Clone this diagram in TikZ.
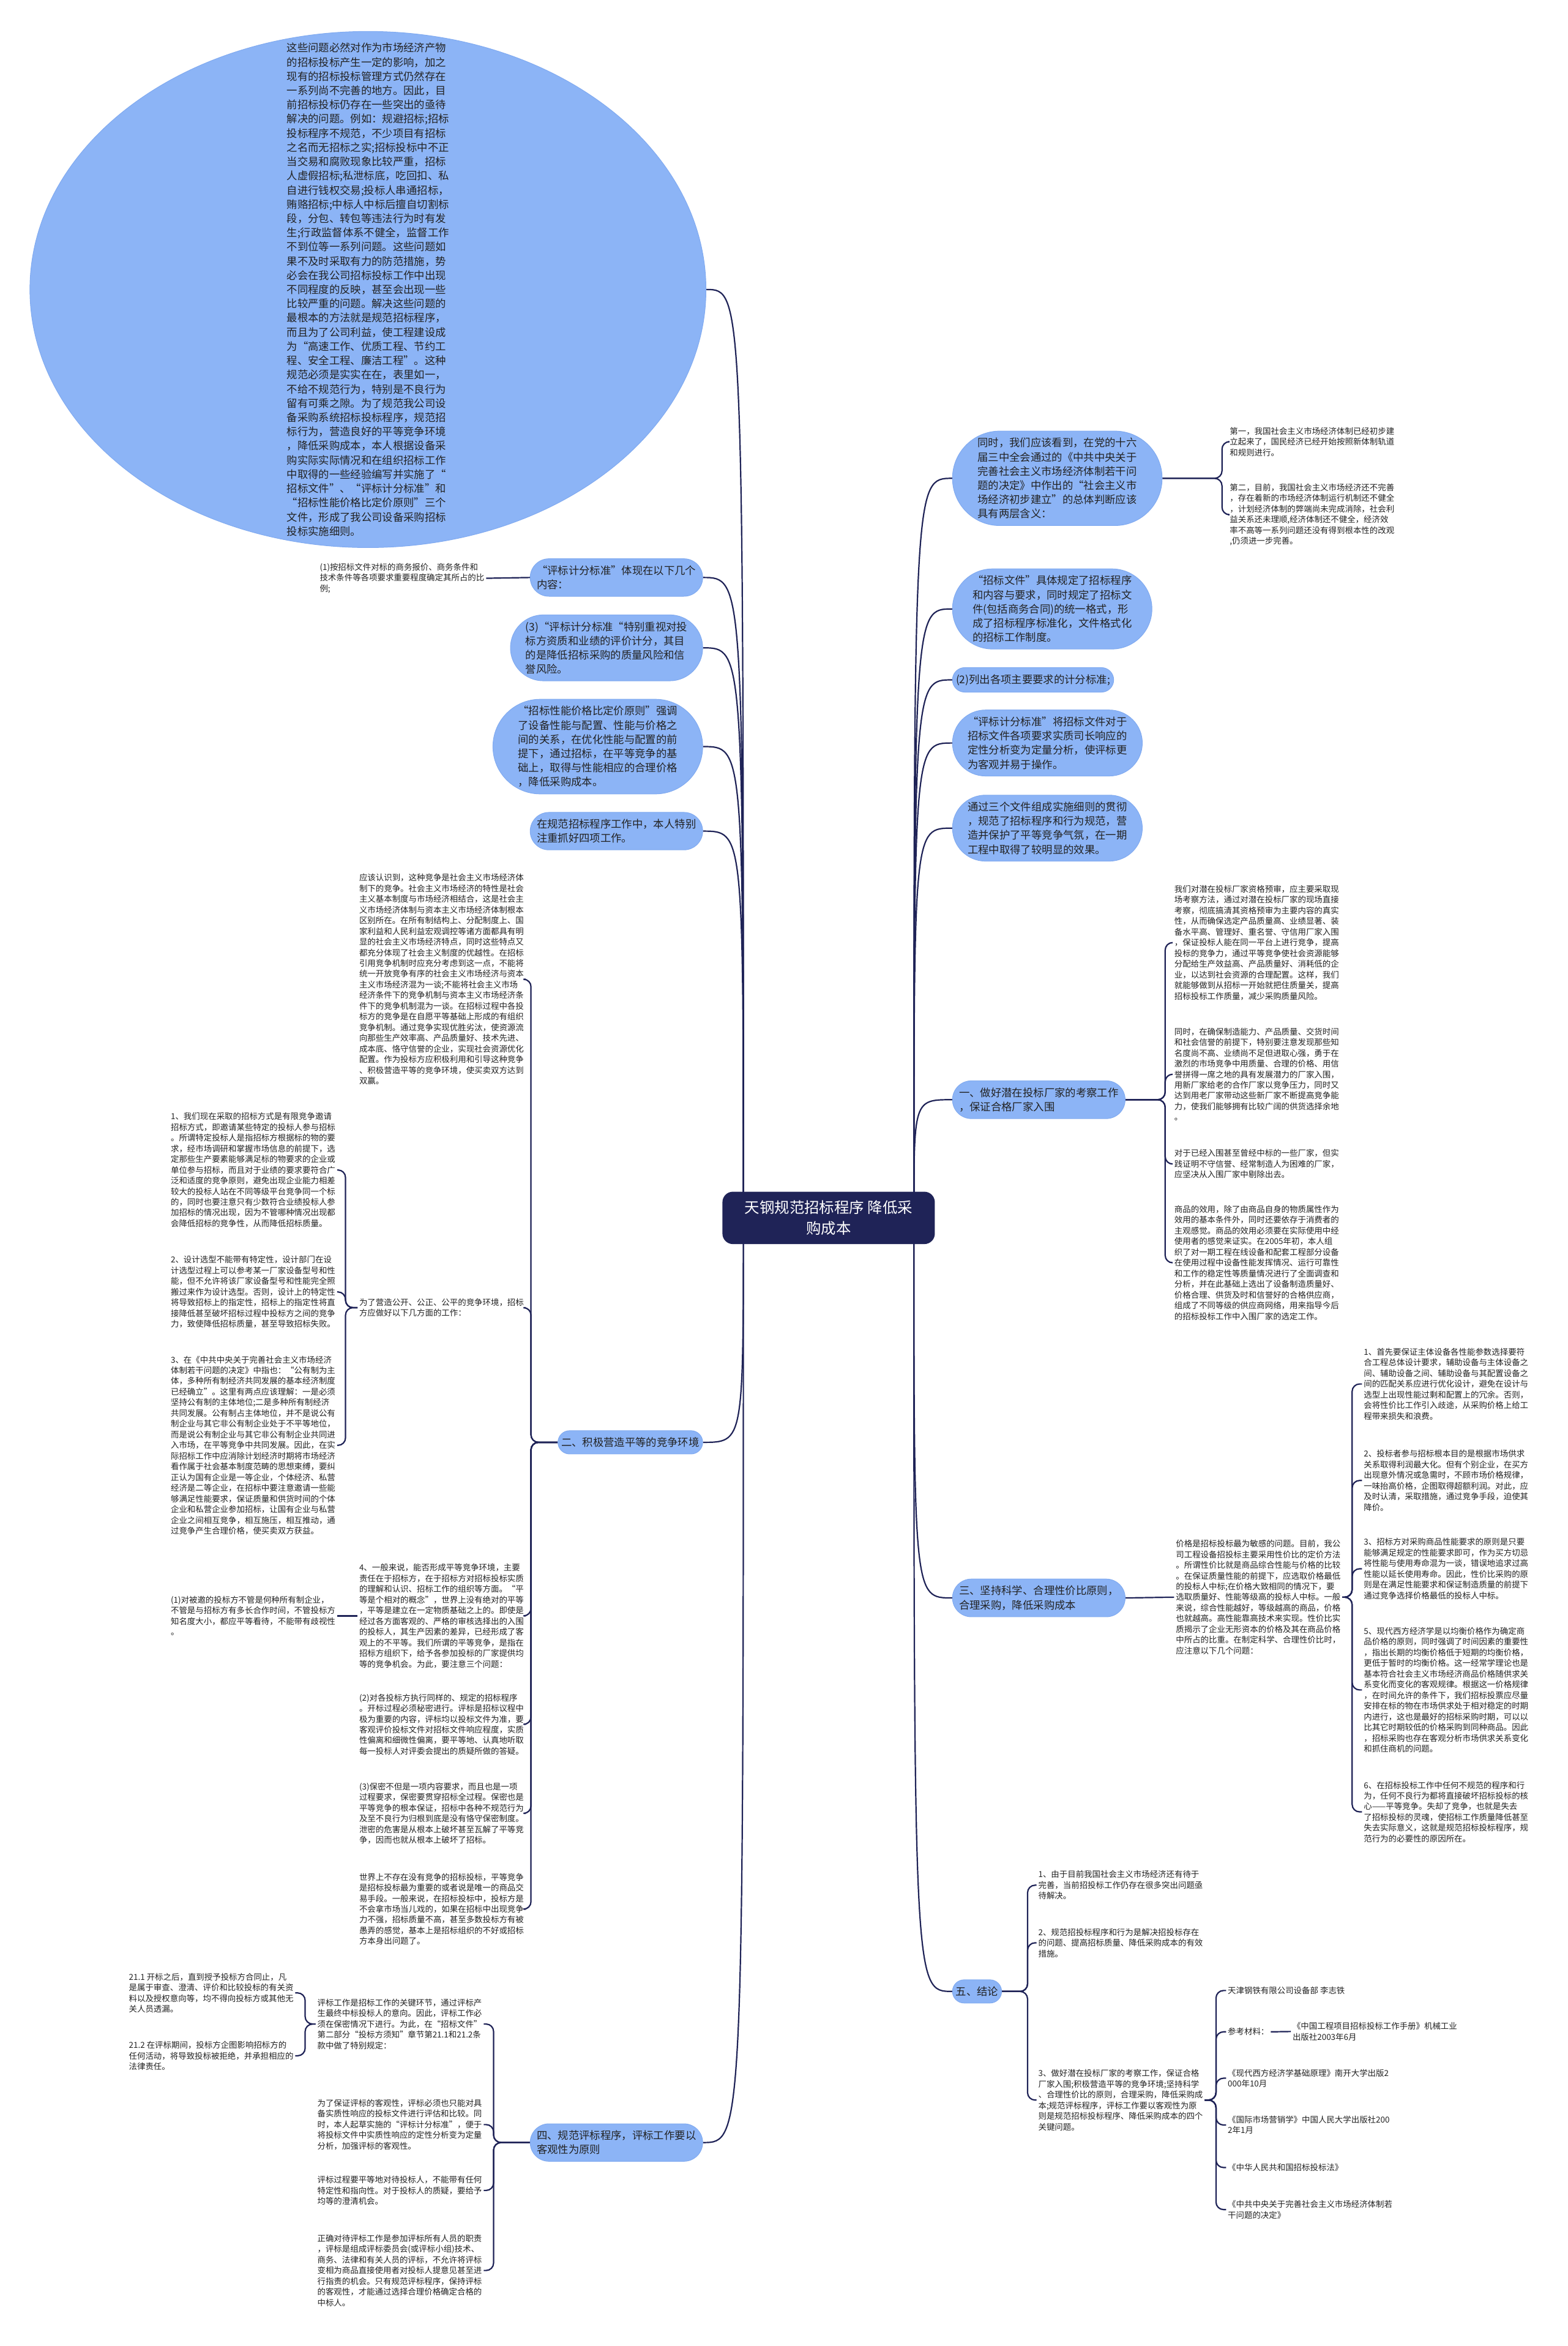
\documentclass[tikz,border=0pt]{standalone}
\usepackage{fontspec}
\setmainfont{Noto Sans CJK SC}
\usepackage{tikz}
\usetikzlibrary{shapes.misc,shapes.geometric,backgrounds}
\definecolor{MapNavy}{HTML}{1F2357}
\definecolor{MapBlue}{HTML}{8CB4F6}
\definecolor{MapBlueLine}{HTML}{80AAF0}
\definecolor{MapInk}{HTML}{222222}

\begin{document}
\begin{tikzpicture}[x=1pt,y=-1pt,
    hub/.style={rounded corners=7pt,fill=MapNavy,text=white,align=center,
      minimum width=142pt,minimum height=35pt,font=\fontsize{10}{14}\selectfont},
    pill/.style={rounded rectangle,fill=MapBlue,draw=MapBlueLine,line width=0.4pt,
      inner xsep=1.5pt,inner ysep=4.5pt,align=left,text=MapInk,
      font=\fontsize{7.1}{9.5}\selectfont},
    bubble/.style={ellipse,fill=MapBlue,draw=MapBlueLine,line width=0.4pt,
      minimum width=452pt,minimum height=345pt,inner sep=0pt},
    pilltext/.style={align=left,text=MapInk,inner sep=0pt,font=\fontsize{7.1}{9.5}\selectfont},
    note/.style={inner sep=1pt,align=left,text=MapInk,font=\fontsize{5.5}{7.15}\selectfont},
    link/.style={draw=MapNavy,line width=0.9pt},
    brace/.style={link,rounded corners=5pt}
  ]
  \useasboundingbox (0,0) rectangle (1048,1568);

  \node[hub] (root) at (554,814) {天钢规范招标程序 降低采\\购成本};

  % left side
  \node[bubble] (intro) at (246,193.5) {};
  \node[pilltext] at (intro.center) {这些问题必然对作为市场经济产物\\的招标投标产生一定的影响，加之\\现有的招标投标管理方式仍然存在\\一系列尚不完善的地方。因此，目\\前招标投标仍存在一些突出的亟待\\解决的问题。例如：规避招标;招标\\投标程序不规范，不少项目有招标\\之名而无招标之实;招标投标中不正\\当交易和腐败现象比较严重，招标\\人虚假招标;私泄标底，吃回扣、私\\自进行钱权交易;投标人串通招标，\\贿赂招标;中标人中标后擅自切割标\\段，分包、转包等违法行为时有发\\生;行政监督体系不健全，监督工作\\不到位等一系列问题。这些问题如\\果不及时采取有力的防范措施，势\\必会在我公司招标投标工作中出现\\不同程度的反映，甚至会出现一些\\比较严重的问题。解决这些问题的\\最根本的方法就是规范招标程序，\\而且为了公司利益，使工程建设成\\为“高速工作、优质工程、节约工\\程、安全工程、廉洁工程”。这种\\规范必须是实实在在，表里如一，\\不给不规范行为，特别是不良行为\\留有可乘之隙。为了规范我公司设\\备采购系统招标投标程序，规范招\\标行为，营造良好的平等竞争环境\\，降低采购成本，本人根据设备采\\购实际实际情况和在组织招标工作\\中取得的一些经验编写并实施了“\\招标文件”、“评标计分标准”和\\“招标性能价格比定价原则”三个\\文件，形成了我公司设备采购招标\\投标实施细则。};
  \node[pill,anchor=east] (scoreRule) at (470,386) {“评标计分标准”体现在以下几个\\内容：};
  \node[note,anchor=east] (scoreRatio) at (325,386.5) {(1)按招标文件对标的商务报价、商务条件和\\技术条件等各项要求重要程度确定其所占的比\\例;};
  \node[pill,anchor=east] (scoreQual) at (470,433) {(3)“评标计分标准“特别重视对投\\标方资质和业绩的评价计分，其目\\的是降低招标采购的质量风险和信\\誉风险。};
  \node[pill,anchor=east] (priceRule) at (470,499) {“招标性能价格比定价原则”强调\\了设备性能与配置、性能与价格之\\间的关系，在优化性能与配置的前\\提下，通过招标，在平等竞争的基\\础上，取得与性能相应的合理价格\\，降低采购成本。};
  \node[pill,anchor=east] (fourTasks) at (470,555.5) {在规范招标程序工作中，本人特别\\注重抓好四项工作。};
  \node[pill,anchor=east] (compete) at (470,964) {二、积极营造平等的竞争环境};
  \node[pill,anchor=east] (evalRule) at (470,1432) {四、规范评标程序，评标工作要以\\客观性为原则};

  % section two
  \node[note,anchor=west] (recognize) at (239,654.5) {应该认识到，这种竞争是社会主义市场经济体\\制下的竞争。社会主义市场经济的特性是社会\\主义基本制度与市场经济相结合，这是社会主\\义市场经济体制与资本主义市场经济体制根本\\区别所在。在所有制结构上、分配制度上、国\\家利益和人民利益宏观调控等诸方面都具有明\\显的社会主义市场经济特点，同时这些特点又\\都充分体现了社会主义制度的优越性。在招标\\引用竞争机制时应充分考虑到这一点，不能将\\统一开放竞争有序的社会主义市场经济与资本\\主义市场经济混为一谈;不能将社会主义市场\\经济条件下的竞争机制与资本主义市场经济条\\件下的竞争机制混为一谈。在招标过程中各投\\标方的竞争是在自愿平等基础上形成的有组织\\竞争机制。通过竞争实现优胜劣汰，使资源流\\向那些生产效率高、产品质量好、技术先进、\\成本底、恪守信誉的企业，实现社会资源优化\\配置。作为投标方应积极利用和引导这种竞争\\、积极营造平等的竞争环境，使买卖双方达到\\双赢。};
  \node[note,anchor=west] (openEnv) at (239,874) {为了营造公开、公正、公平的竞争环境，招标\\方应做好以下几方面的工作：};
  \node[note,anchor=west] (inviteWay) at (113,782) {1、我们现在采取的招标方式是有限竞争邀请\\招标方式，即邀请某些特定的投标人参与招标\\。所谓特定投标人是指招标方根据标的物的要\\求，经市场调研和掌握市场信息的前提下，选\\定那些生产要素能够满足标的物要求的企业或\\单位参与招标，而且对于业绩的要求要符合广\\泛和适度的竞争原则，避免出现企业能力相差\\较大的投标人站在不同等级平台竞争同一个标\\的，同时也要注意只有少数符合业绩投标人参\\加招标的情况出现，因为不管哪种情况出现都\\会降低招标的竞争性，从而降低招标质量。};
  \node[note,anchor=west] (designSel) at (113,863.5) {2、设计选型不能带有特定性，设计部门在设\\计选型过程上可以参考某一厂家设备型号和性\\能，但不允许将该厂家设备型号和性能完全照\\搬过来作为设计选型。否则，设计上的特定性\\将导致招标上的指定性，招标上的指定性将直\\接降低甚至破坏招标过程中投标方之间的竞争\\力，致使降低招标质量，甚至导致招标失败。};
  \node[note,anchor=west] (ownership) at (113,966) {3、在《中共中央关于完善社会主义市场经济\\体制若干问题的决定》中指也：“公有制为主\\体，多种所有制经济共同发展的基本经济制度\\已经确立”。这里有两点应该理解：一是必须\\坚持公有制的主体地位;二是多种所有制经济\\共同发展。公有制占主体地位，并不是说公有\\制企业与其它非公有制企业处于不平等地位，\\而是说公有制企业与其它非公有制企业共同进\\入市场，在平等竞争中共同发展。因此，在实\\际招标工作中应消除计划经济时期将市场经济\\看作属于社会基本制度范畴的思想束缚，要纠\\正认为国有企业是一等企业，个体经济、私营\\经济是二等企业，在招标中要注意邀请一些能\\够满足性能要求，保证质量和供货时间的个体\\企业和私营企业参加招标，让国有企业与私营\\企业之间相互竞争，相互施压，相互推动，通\\过竞争产生合理价格，使买卖双方获益。};
  \node[note,anchor=west] (fairBase) at (239,1080) {4、一般来说，能否形成平等竞争环境，主要\\责任在于招标方，在于招标方对招标投标实质\\的理解和认识、招标工作的组织等方面。“平\\等是个相对的概念”，世界上没有绝对的平等\\，平等是建立在一定物质基础之上的。即使是\\经过各方面客观的、严格的审核选择出的入围\\的投标人，其生产因素的差异，已经形成了客\\观上的不平等。我们所谓的平等竞争，是指在\\招标方组织下，给予各参加投标的厂家提供均\\等的竞争机会。为此，要注意三个问题：};
  \node[note,anchor=west] (equalView) at (113,1080) {(1)对被邀的投标方不管是何种所有制企业，\\不管是与招标方有多长合作时间，不管投标方\\知名度大小，都应平等看待，不能带有歧视性\\。};
  \node[note,anchor=west] (sameProc) at (239,1152.5) {(2)对各投标方执行同样的、规定的招标程序\\。开标过程必须秘密进行。评标是招标议程中\\极为重要的内容，评标均以投标文件为准，要\\客观评价投标文件对招标文件响应程度，实质\\性偏离和细微性偏离，要平等地、认真地听取\\每一投标人对评委会提出的质疑所做的答疑。};
  \node[note,anchor=west] (secrecy) at (239,1212) {(3)保密不但是一项内容要求，而且也是一项\\过程要求，保密要贯穿招标全过程。保密也是\\平等竞争的根本保证，招标中各种不规范行为\\及至不良行为归根到底是没有恪守保密制度。\\泄密的危害是从根本上破坏甚至瓦解了平等竞\\争，因而也就从根本上破坏了招标。};
  \node[note,anchor=west] (noCompete) at (239,1276) {世界上不存在没有竞争的招标投标，平等竞争\\是招标投标最为重要的或者说是唯一的商品交\\易手段。一般来说，在招标投标中，投标方是\\不会拿市场当儿戏的，如果在招标中出现竞争\\力不强，招标质量不高，甚至多数投标方有被\\愚弄的感觉，基本上是招标组织的不好或招标\\方本身出问题了。};

  % section four
  \node[note,anchor=west] (evalKey) at (211,1352.8) {评标工作是招标工作的关键环节，通过评标产\\生最终中标投标人的意向。因此，评标工作必\\须在保密情况下进行。为此，在“招标文件”\\第二部分“投标方须知”章节第21.1和21.2条\\款中做了特别规定：};
  \node[note,anchor=west] (clauseA) at (85,1332) {21.1 开标之后，直到授予投标方合同止，凡\\是属于审查、澄清、评价和比较投标的有关资\\料以及授权意向等，均不得向投标方或其他无\\关人员透漏。};
  \node[note,anchor=west] (clauseB) at (85,1374) {21.2 在评标期间，投标方企图影响招标方的\\任何活动，将导致投标被拒绝，并承担相应的\\法律责任。};
  \node[note,anchor=west] (objective) at (211,1420) {为了保证评标的客观性，评标必须也只能对具\\备实质性响应的投标文件进行评估和比较。同\\时，本人起草实施的“评标计分标准”，便于\\将投标文件中实质性响应的定性分析变为定量\\分析，加强评标的客观性。};
  \node[note,anchor=west] (treatEqual) at (211,1464) {评标过程要平等地对待投标人，不能带有任何\\特定性和指向性。对于投标人的质疑，要给予\\均等的澄清机会。};
  \node[note,anchor=west] (duty) at (211,1517.5) {正确对待评标工作是参加评标所有人员的职责\\，评标是组成评标委员会(或评标小组)技术、\\商务、法律和有关人员的评标，不允许将评标\\变相为商品直接使用者对投标人提意见甚至进\\行指责的机会。只有规范评标程序，保持评标\\的客观性，才能通过选择合理价格确定合格的\\中标人。};

  % right side
  \node[pill,anchor=west] (twoMeaning) at (636.6,319.7) {同时，我们应该看到，在党的十六\\届三中全会通过的《中共中央关于\\完善社会主义市场经济体制若干问\\题的决定》中作出的“社会主义市\\场经济初步建立”的总体判断应该\\具有两层含义：};
  \node[note,anchor=west] (firstMean) at (821,295.2) {第一，我国社会主义市场经济体制已经初步建\\立起来了，国民经济已经开始按照新体制轨道\\和规则进行。};
  \node[note,anchor=west] (secondMean) at (821,344) {第二，目前，我国社会主义市场经济还不完善\\，存在着新的市场经济体制运行机制还不健全\\，计划经济体制的弊端尚未完成消除，社会利\\益关系还未理顺,经济体制还不健全，经济效\\率不高等一系列问题还没有得到根本性的改观\\,仍须进一步完善。};
  \node[pill,anchor=west] (bidDoc) at (636.6,407) {“招标文件”具体规定了招标程序\\和内容与要求，同时规定了招标文\\件(包括商务合同)的统一格式，形\\成了招标程序标准化，文件格式化\\的招标工作制度。};
  \node[pill,anchor=west] (scoreList) at (636.6,454.4) {(2)列出各项主要要求的计分标准;};
  \node[pill,anchor=west] (scoreQuant) at (636.6,496.6) {“评标计分标准”将招标文件对于\\招标文件各项要求实质司长响应的\\定性分析变为定量分析，使评标更\\为客观并易于操作。};
  \node[pill,anchor=west] (effect) at (636.6,553.5) {通过三个文件组成实施细则的贯彻\\，规范了招标程序和行为规范，营\\造并保护了平等竞争气氛，在一期\\工程中取得了较明显的效果。};

  % section one
  \node[pill,anchor=west] (survey) at (636.6,735) {一、做好潜在投标厂家的考察工作\\，保证合格厂家入围};
  \node[note,anchor=west] (siteCheck) at (784,630) {我们对潜在投标厂家资格预审，应主要采取现\\场考察方法，通过对潜在投标厂家的现场直接\\考察，彻底搞清其资格预审为主要内容的真实\\性，从而确保选定产品质量高、业绩显著、装\\备水平高、管理好、重名誉、守信用厂家入围\\，保证投标人能在同一平台上进行竞争，提高\\投标的竞争力，通过平等竞争使社会资源能够\\分配给生产效益高、产品质量好、消耗低的企\\业，以达到社会资源的合理配置。这样，我们\\就能够做到从招标一开始就把住质量关，提高\\招标投标工作质量，减少采购质量风险。};
  \node[note,anchor=west] (newMaker) at (784,718) {同时，在确保制造能力、产品质量、交货时间\\和社会信誉的前提下，特别要注意发现那些知\\名度尚不高、业绩尚不足但进取心强，勇于在\\激烈的市场竞争中用质量、合理的价格、用信\\誉拼得一席之地的具有发展潜力的厂家入围，\\用新厂家给老的合作厂家以竞争压力，同时又\\达到用老厂家带动这些新厂家不断提高竞争能\\力，使我们能够拥有比较广阔的供货选择余地\\。};
  \node[note,anchor=west] (dropMaker) at (784,778) {对于已经入围甚至曾经中标的一些厂家，但实\\践证明不守信誉、经常制造人为困难的厂家，\\应坚决从入围厂家中剔除出去。};
  \node[note,anchor=west] (utility) at (784,844) {商品的效用，除了由商品自身的物质属性作为\\效用的基本条件外，同时还要依存于消费者的\\主观感觉。商品的效用必须要在实际使用中经\\使用者的感觉来证实。在2005年初，本人组\\织了对一期工程在线设备和配套工程部分设备\\在使用过程中设备性能发挥情况、运行可靠性\\和工作的稳定性等质量情况进行了全面调查和\\分析，并在此基础上选出了设备制造质量好、\\价格合理、供货及时和信誉好的合格供应商，\\组成了不同等级的供应商网络，用来指导今后\\的招标投标工作中入围厂家的选定工作。};

  % section three
  \node[pill,anchor=west] (ratio) at (636.6,1068) {三、坚持科学、合理性价比原则，\\合理采购，降低采购成本};
  \node[note,anchor=west] (priceSense) at (785,1067.5) {价格是招标投标最为敏感的问题。目前，我公\\司工程设备招投标主要采用性价比的定价方法\\。所谓性价比就是商品综合性能与价格的比较\\。在保证质量性能的前提下，应选取价格最低\\的投标人中标;在价格大致相同的情况下，要\\选取质量好、性能等级高的投标人中标。一般\\来说，综合性能越好，等级越高的商品，价格\\也就越高。高性能靠高技术来实现。性价比实\\质揭示了企业无形资本的价格及其在商品价格\\中所占的比重。在制定科学、合理性价比时，\\应注意以下几个问题：};
  \node[note,anchor=west] (ratioA) at (910.6,925) {1、首先要保证主体设备各性能参数选择要符\\合工程总体设计要求，辅助设备与主体设备之\\间、辅助设备之间、辅助设备与其配置设备之\\间的匹配关系应进行优化设计，避免在设计与\\选型上出现性能过剩和配置上的冗余。否则，\\会将性价比工作引入歧途，从采购价格上给工\\程带来损失和浪费。};
  \node[note,anchor=west] (ratioB) at (910.6,989.5) {2、投标者参与招标根本目的是根据市场供求\\关系取得利润最大化。但有个别企业，在买方\\出现意外情况或急需时，不顾市场价格规律，\\一味抬高价格，企图取得超额利润。对此，应\\及时认清，采取措施，通过竞争手段，迫使其\\降价。};
  \node[note,anchor=west] (ratioC) at (910.6,1048.5) {3、招标方对采购商品性能要求的原则是只要\\能够满足规定的性能要求即可，作为买方切忌\\将性能与使用寿命混为一谈，错误地追求过高\\性能以延长使用寿命。因此，性价比采购的原\\则是在满足性能要求和保证制造质量的前提下\\通过竞争选择价格最低的投标人中标。};
  \node[note,anchor=west] (ratioE) at (910.6,1129.5) {5、现代西方经济学是以均衡价格作为确定商\\品价格的原则，同时强调了时间因素的重要性\\，指出长期的均衡价格低于短期的均衡价格，\\更低于暂时的均衡价格。这一经常学理论也是\\基本符合社会主义市场经济商品价格随供求关\\系变化而变化的客观规律。根据这一价格规律\\，在时间允许的条件下，我们招标投票应尽量\\安排在标的物在市场供求处于相对稳定的时期\\内进行，这也是最好的招标采购时期，可以以\\比其它时期较低的价格采购到同种商品。因此\\，招标采购也存在客观分析市场供求关系变化\\和抓住商机的问题。};
  \node[note,anchor=west] (ratioF) at (910.6,1211) {6、在招标投标工作中任何不规范的程序和行\\为，任何不良行为都将直接破坏招标投标的核\\心——平等竞争。失却了竞争，也就是失去\\了招标投标的灵魂，使招标工作质量降低甚至\\失去实际意义，这就是规范招标投标程序，规\\范行为的必要性的原因所在。};

  % section five
  \node[pill,anchor=west] (summary) at (636.6,1331) {五、结论};
  \node[note,anchor=west] (sumA) at (693,1260) {1、由于目前我国社会主义市场经济还有待于\\完善，当前招投标工作仍存在很多突出问题亟\\待解决。};
  \node[note,anchor=west] (sumB) at (693,1298.5) {2、规范招投标程序和行为是解决招投标存在\\的问题、提高招标质量、降低采购成本的有效\\措施。};
  \node[note,anchor=west] (sumC) at (693,1403.6) {3、做好潜在投标厂家的考察工作，保证合格\\厂家入围;积极营造平等的竞争环境;坚持科学\\、合理性价比的原则，合理采购，降低采购成\\本;规范评标程序，评标工作要以客观性为原\\则是规范招标投标程序、降低采购成本的四个\\关键问题。};
  \node[note,anchor=west] (author) at (819.7,1330.4) {天津钢铁有限公司设备部 李志铁};
  \node[note,anchor=west] (refs) at (819.7,1358) {参考材料：};
  \node[note,anchor=west] (refA) at (863,1357.8) {《中国工程项目招标投标工作手册》机械工业\\出版社2003年6月};
  \node[note,anchor=west] (refB) at (819.7,1389) {《现代西方经济学基础原理》南开大学出版2\\000年10月};
  \node[note,anchor=west] (refC) at (819.7,1420.3) {《国际市场营销学》中国人民大学出版社200\\2年1月};
  \node[note,anchor=west] (refD) at (819.7,1448.7) {《中华人民共和国招标投标法》};
  \node[note,anchor=west] (refE) at (819.7,1476.8) {《中共中央关于完善社会主义市场经济体制若\\干问题的决定》};

  \coordinate (rootL) at (497,814);
  \coordinate (rootR) at (611,814);
  \coordinate (spCompete) at (355,964);
  \coordinate (spOpen) at (231,874);
  \coordinate (spEval) at (330,1432);
  \coordinate (spKey) at (204,1352.8);
  \coordinate (spMeaning) at (817,319.7);
  \coordinate (spSurvey) at (779,735);
  \coordinate (spPrice) at (904,1067.5);
  \coordinate (spSummary) at (687,1331);
  \coordinate (spRefs) at (813,1403.6);

  \begin{scope}[on background layer]
    \fill[white] (0,0) rectangle (1048,1568);
    % root to left
    \draw[link] (rootL) .. controls (rootL |- intro.east) .. (intro.east);
    \draw[link] (rootL) .. controls (rootL |- scoreRule.east) .. (scoreRule.east);
    \draw[link] (rootL) .. controls (rootL |- scoreQual.east) .. (scoreQual.east);
    \draw[link] (rootL) .. controls (rootL |- priceRule.east) .. (priceRule.east);
    \draw[link] (rootL) .. controls (rootL |- fourTasks.east) .. (fourTasks.east);
    \draw[link] (rootL) .. controls (rootL |- compete.east) .. (compete.east);
    \draw[link] (rootL) .. controls (rootL |- evalRule.east) .. (evalRule.east);
    % root to right
    \draw[link] (rootR) .. controls (rootR |- twoMeaning.west) .. (twoMeaning.west);
    \draw[link] (rootR) .. controls (rootR |- bidDoc.west) .. (bidDoc.west);
    \draw[link] (rootR) .. controls (rootR |- scoreList.west) .. (scoreList.west);
    \draw[link] (rootR) .. controls (rootR |- scoreQuant.west) .. (scoreQuant.west);
    \draw[link] (rootR) .. controls (rootR |- effect.west) .. (effect.west);
    \draw[link] (rootR) .. controls (rootR |- survey.west) .. (survey.west);
    \draw[link] (rootR) .. controls (rootR |- ratio.west) .. (ratio.west);
    \draw[link] (rootR) .. controls (rootR |- summary.west) .. (summary.west);
    % left branches
    \draw[link] (scoreRule.west) -- (scoreRatio.east);
    \draw[brace] (compete.west) -- (spCompete) |- (recognize.east);
    \draw[brace] (compete.west) -- (spCompete) |- (openEnv.east);
    \draw[brace] (compete.west) -- (spCompete) |- (fairBase.east);
    \draw[brace] (compete.west) -- (spCompete) |- (sameProc.east);
    \draw[brace] (compete.west) -- (spCompete) |- (secrecy.east);
    \draw[brace] (compete.west) -- (spCompete) |- (noCompete.east);
    \draw[brace] (openEnv.west) -- (spOpen) |- (inviteWay.east);
    \draw[brace] (openEnv.west) -- (spOpen) |- (designSel.east);
    \draw[brace] (openEnv.west) -- (spOpen) |- (ownership.east);
    \draw[link] (fairBase.west) -- (equalView.east);
    \draw[brace] (evalRule.west) -- (spEval) |- (evalKey.east);
    \draw[brace] (evalRule.west) -- (spEval) |- (objective.east);
    \draw[brace] (evalRule.west) -- (spEval) |- (treatEqual.east);
    \draw[brace] (evalRule.west) -- (spEval) |- (duty.east);
    \draw[brace] (evalKey.west) -- (spKey) |- (clauseA.east);
    \draw[brace] (evalKey.west) -- (spKey) |- (clauseB.east);
    % right branches
    \draw[brace] (twoMeaning.east) -- (spMeaning) |- (firstMean.west);
    \draw[brace] (twoMeaning.east) -- (spMeaning) |- (secondMean.west);
    \draw[brace] (survey.east) -- (spSurvey) |- (siteCheck.west);
    \draw[brace] (survey.east) -- (spSurvey) |- (newMaker.west);
    \draw[brace] (survey.east) -- (spSurvey) |- (dropMaker.west);
    \draw[brace] (survey.east) -- (spSurvey) |- (utility.west);
    \draw[link] (ratio.east) -- (priceSense.west);
    \draw[brace] (priceSense.east) -- (spPrice) |- (ratioA.west);
    \draw[brace] (priceSense.east) -- (spPrice) |- (ratioB.west);
    \draw[brace] (priceSense.east) -- (spPrice) |- (ratioC.west);
    \draw[brace] (priceSense.east) -- (spPrice) |- (ratioE.west);
    \draw[brace] (priceSense.east) -- (spPrice) |- (ratioF.west);
    \draw[brace] (summary.east) -- (spSummary) |- (sumA.west);
    \draw[brace] (summary.east) -- (spSummary) |- (sumB.west);
    \draw[brace] (summary.east) -- (spSummary) |- (sumC.west);
    \draw[brace] (sumC.east) -- (spRefs) |- (author.west);
    \draw[brace] (sumC.east) -- (spRefs) |- (refs.west);
    \draw[brace] (sumC.east) -- (spRefs) |- (refB.west);
    \draw[brace] (sumC.east) -- (spRefs) |- (refC.west);
    \draw[brace] (sumC.east) -- (spRefs) |- (refD.west);
    \draw[brace] (sumC.east) -- (spRefs) |- (refE.west);
    \draw[link] (refs.east) -- (refA.west);
  \end{scope}
\end{tikzpicture}
\end{document}
